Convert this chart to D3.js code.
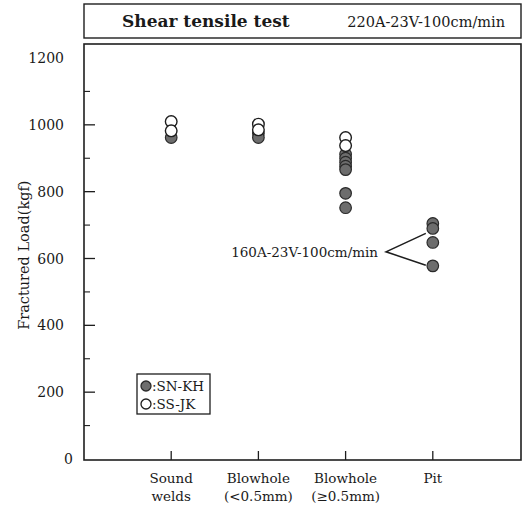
<!DOCTYPE html>
<html>
<head>
<meta charset="utf-8">
<script src="https://cdn.jsdelivr.net/npm/d3@7"></script>
<style>
  body { margin: 0; background: #fff; }
  text { font-family: "DejaVu Serif", "Liberation Serif", serif; fill: #1a1a1a; }
</style>
</head>
<body>
<svg id="chart" width="526" height="509"></svg>
<script>
// Weld defect categories (two-line tick labels)
const categories = ["Sound welds", "Blowhole (<0.5mm)", "Blowhole (≥0.5mm)", "Pit"];
const categoryLines = [["Sound", "welds"], ["Blowhole", "(<0.5mm)"], ["Blowhole", "(≥0.5mm)"], ["Pit"]];

// Fractured load (kgf) per category, one array per wire
const snKH = [[962], [975, 962], [912, 900, 888, 876, 866, 795, 752], [705, 690, 648, 578]];
const ssJK = [[1010, 982], [1002, 985], [962, 938], []];

const yMajorTicks = [0, 200, 400, 600, 800, 1000, 1200];
const yMinorTicks = [100, 300, 500, 700, 900, 1100];

const titleText = "Shear tensile test";
const conditionText = "220A-23V-100cm/min";
const pitConditionText = "160A-23V-100cm/min";
const yTitle = "Fractured Load(kgf)";
const legendLabels = [":SN-KH", ":SS-JK"];

const svg = d3.select("#chart");
const frame = { left: 84, right: 521, top: 44, bottom: 460 };

const x = d3.scalePoint().domain(categories).range([frame.left, 520]).padding(1);
const y = d3.scaleLinear().domain([0, 1200]).range([459, 58]);

const ink = "#1e1e1e";
const filledColor = "#6d6d6d";
const r = 5.8;

// Title box
svg.append("rect")
  .attr("x", frame.left).attr("y", 4)
  .attr("width", frame.right - frame.left).attr("height", 34)
  .attr("fill", "none").attr("stroke", ink).attr("stroke-width", 1.4);
svg.append("text")
  .attr("x", 122).attr("y", 27)
  .attr("font-size", 17).attr("font-weight", "bold")
  .text(titleText);
svg.append("text")
  .attr("x", 505).attr("y", 27).attr("text-anchor", "end")
  .attr("font-size", 14.5)
  .text(conditionText);

// Plot frame
svg.append("rect")
  .attr("x", frame.left).attr("y", frame.top)
  .attr("width", frame.right - frame.left).attr("height", frame.bottom - frame.top)
  .attr("fill", "none").attr("stroke", ink).attr("stroke-width", 1.6);

// Y ticks (inward) and labels
svg.append("g").selectAll("line.major").data(yMajorTicks.filter(d => d > 0 && d < 1200)).join("line")
  .attr("x1", frame.left).attr("x2", frame.left + 11)
  .attr("y1", d => y(d)).attr("y2", d => y(d))
  .attr("stroke", ink).attr("stroke-width", 1.3);
svg.append("g").selectAll("line.minor").data(yMinorTicks).join("line")
  .attr("x1", frame.left).attr("x2", frame.left + 6)
  .attr("y1", d => y(d)).attr("y2", d => y(d))
  .attr("stroke", ink).attr("stroke-width", 1.1);
svg.append("g").selectAll("text").data(yMajorTicks).join("text")
  .attr("x", d => d === 0 ? 73 : 64)
  .attr("y", d => y(d))
  .attr("dy", "0.36em")
  .attr("text-anchor", "end")
  .attr("font-size", 14)
  .text(d => d);

// Y axis title
svg.append("text")
  .attr("transform", `translate(29,${y(610)}) rotate(-90)`)
  .attr("text-anchor", "middle")
  .attr("font-size", 14.5)
  .text(yTitle);

// X ticks (inward) and two-line category labels
svg.append("g").selectAll("line").data(categories).join("line")
  .attr("x1", d => x(d)).attr("x2", d => x(d))
  .attr("y1", frame.bottom).attr("y2", frame.bottom - 9)
  .attr("stroke", ink).attr("stroke-width", 1.3);
const catLabels = svg.append("g").selectAll("text").data(categories).join("text")
  .attr("x", d => x(d)).attr("y", 483)
  .attr("text-anchor", "middle")
  .attr("font-size", 13.5);
catLabels.each(function (d, i) {
  d3.select(this).selectAll("tspan").data(categoryLines[i]).join("tspan")
    .attr("x", x(d))
    .attr("dy", (t, j) => j === 0 ? 0 : 18)
    .text(t => t);
});

// Data points: filled (SN-KH) beneath open (SS-JK)
const filledPts = snKH.flatMap((vals, i) => vals.map(v => ({ c: categories[i], v })));
const openPts = ssJK.flatMap((vals, i) => vals.map(v => ({ c: categories[i], v })));

svg.append("g").selectAll("circle").data(filledPts).join("circle")
  .attr("cx", d => x(d.c)).attr("cy", d => y(d.v)).attr("r", r)
  .attr("fill", filledColor).attr("stroke", "#2a2a2a").attr("stroke-width", 1.2);
svg.append("g").selectAll("circle").data(openPts).join("circle")
  .attr("cx", d => x(d.c)).attr("cy", d => y(d.v)).attr("r", r)
  .attr("fill", "#fff").attr("stroke", "#1e1e1e").attr("stroke-width", 1.4);

// Pit welding condition annotation
const pitX = x("Pit");
const vertex = [386, y(620)];
svg.append("text")
  .attr("x", 378).attr("y", vertex[1]).attr("dy", "0.36em")
  .attr("text-anchor", "end")
  .attr("font-size", 13.5)
  .text(pitConditionText);
svg.append("path")
  .attr("d", d3.line()([[pitX - 7, y(675)], vertex, [pitX - 7, y(580)]]))
  .attr("fill", "none").attr("stroke", ink).attr("stroke-width", 1.5);

// Legend
const legend = svg.append("g");
legend.append("rect")
  .attr("x", 137).attr("y", 374).attr("width", 73).attr("height", 40)
  .attr("fill", "#fff").attr("stroke", ink).attr("stroke-width", 1.3);
const legendItems = legend.selectAll("g").data(legendLabels).join("g")
  .attr("transform", (d, i) => `translate(146,${386 + i * 18})`);
legendItems.append("circle")
  .attr("r", 5)
  .attr("fill", (d, i) => i === 0 ? filledColor : "#fff")
  .attr("stroke", (d, i) => i === 0 ? "#2a2a2a" : "#1e1e1e")
  .attr("stroke-width", 1.3);
legendItems.append("text")
  .attr("x", 6).attr("dy", "0.36em")
  .attr("font-size", 13.5)
  .text(d => d);
</script>
</body>
</html>
